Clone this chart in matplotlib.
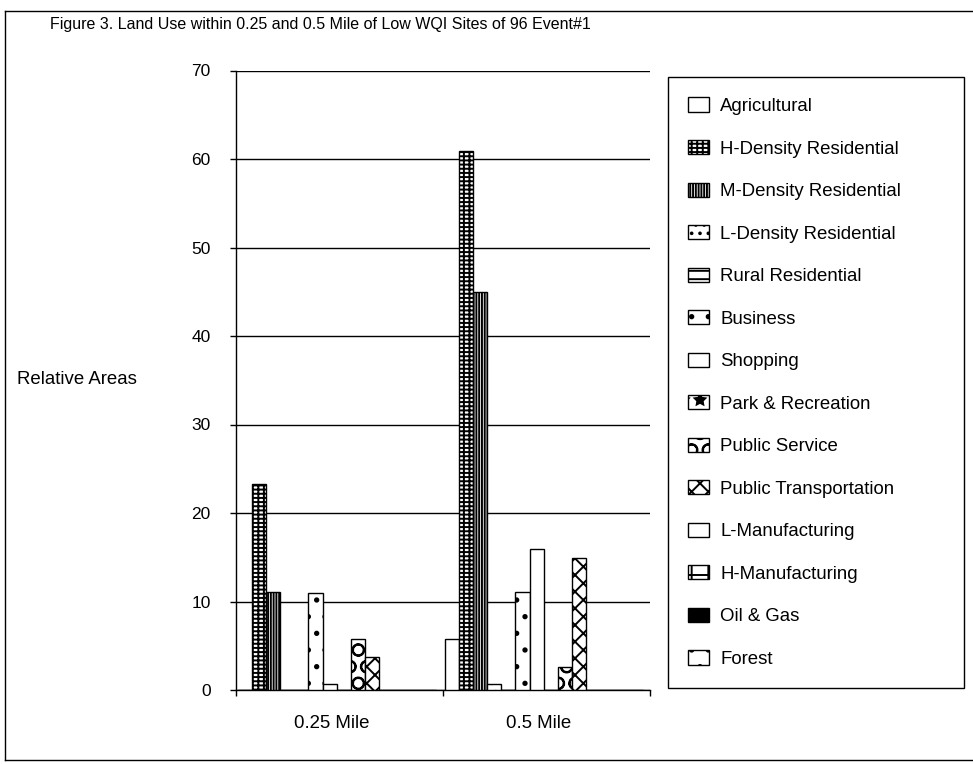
import numpy as np
import matplotlib
matplotlib.use("Agg")
import matplotlib.pyplot as plt
from matplotlib.transforms import ScaledTranslation

plt.rcParams['font.family'] = ['Liberation Sans', 'DejaVu Sans']
plt.rcParams['hatch.linewidth'] = 1.4

# --- data ---------------------------------------------------------------
categories = ['0.25 Mile', '0.5 Mile']
land_uses = ['Agricultural', 'H-Density Residential', 'M-Density Residential',
             'L-Density Residential', 'Rural Residential', 'Business', 'Shopping',
             'Park & Recreation', 'Public Service', 'Public Transportation',
             'L-Manufacturing', 'H-Manufacturing', 'Oil & Gas', 'Forest']
area_quarter_mile = [0, 23.3, 11.1, 0, 0, 11.0, 0.7, 0, 5.8, 3.7, 0, 0, 0, 0]
area_half_mile = [5.8, 60.9, 45.0, 0.7, 0, 11.1, 15.9, 0, 2.6, 14.9, 0, 0, 0, 0]
y_ticks = [0, 10, 20, 30, 40, 50, 60, 70]

# --- styles -------------------------------------------------------------
hatches = ['', '----|||', '||||||', '..', '--', '.', '', '*', 'O', 'xx',
           '', '+', '', '.']
faces = ['white'] * len(land_uses)
faces[land_uses.index('Oil & Gas')] = 'black'

W, H = 973, 764
fig = plt.figure(figsize=(W / 100, H / 100), dpi=100)
fig.patch.set_facecolor('white')

# outer frame of the figure
for xs, ys in [((5, 5), (11, 760)), ((5, 973), (11, 11)), ((5, 973), (760, 760))]:
    fig.add_artist(plt.Line2D([x / W for x in xs], [1 - y / H for y in ys],
                              transform=fig.transFigure, color='black', lw=1.0))

ax_l, ax_r, ax_t, ax_b = 236, 650, 70.5, 690
ax = fig.add_axes([ax_l / W, 1 - ax_b / H, (ax_r - ax_l) / W, (ax_b - ax_t) / H])

values = np.array([area_quarter_mile, area_half_mile])
n = len(land_uses)
bar_w = 0.0684
offset = 0.008
base = np.arange(len(categories))
handles = []
for i, name in enumerate(land_uses):
    x = base + offset + (i + 0.5) * bar_w
    bars = ax.bar(x, values[:, i], width=bar_w, facecolor=faces[i],
                  edgecolor='black', linewidth=1.0, hatch=hatches[i],
                  label=name, zorder=3)
    handles.append(bars)

ax.set_xlim(0, 2)
ax.set_ylim(0, 70)
ax.set_yticks(y_ticks)
ax.yaxis.grid(True, color='black', linewidth=1.0, zorder=0)
ax.set_axisbelow(True)
for s in ['top', 'right']:
    ax.spines[s].set_visible(False)
ax.spines['left'].set_linewidth(1.0)
ax.spines['bottom'].set_linewidth(1.0)
ax.tick_params(axis='y', direction='out', length=4.3, width=1.0,
               pad=14, labelsize=12.5)

ax.set_xticks(base + 0.5)
ax.set_xticklabels(categories)
ax.set_xticks([0, 1, 2], minor=True)
ax.tick_params(axis='x', which='major', length=0, pad=18, labelsize=13.4)
ax.tick_params(axis='x', which='minor', direction='out', length=4, width=1.0)
shift = ScaledTranslation(-8 / 100, 0, fig.dpi_scale_trans)
for lbl in ax.get_xticklabels():
    lbl.set_transform(lbl.get_transform() + shift)

fig.text(17 / W, 1 - 380 / H, 'Relative Areas', fontsize=13.4,
         ha='left', va='center')
fig.text(50 / W, 1 - 25 / H,
         'Figure 3. Land Use within 0.25 and 0.5 Mile of Low WQI Sites of 96 Event#1',
         fontsize=11.5, ha='left', va='center')

leg_l, leg_r, leg_t, leg_b = 668, 964, 77, 689
leg = fig.legend(handles=handles, labels=land_uses, loc='upper left',
                 bbox_to_anchor=(leg_l / W, 1 - leg_b / H, (leg_r - leg_l) / W,
                                 (leg_b - leg_t) / H),
                 mode='expand', borderaxespad=0, fontsize=13.4,
                 handlelength=1.1, handleheight=0.8, handletextpad=0.6,
                 labelspacing=1.34, borderpad=1.1, fancybox=False,
                 edgecolor='black', framealpha=1)
leg.get_frame().set_linewidth(1.0)

fig.savefig('out.png', dpi=100)
